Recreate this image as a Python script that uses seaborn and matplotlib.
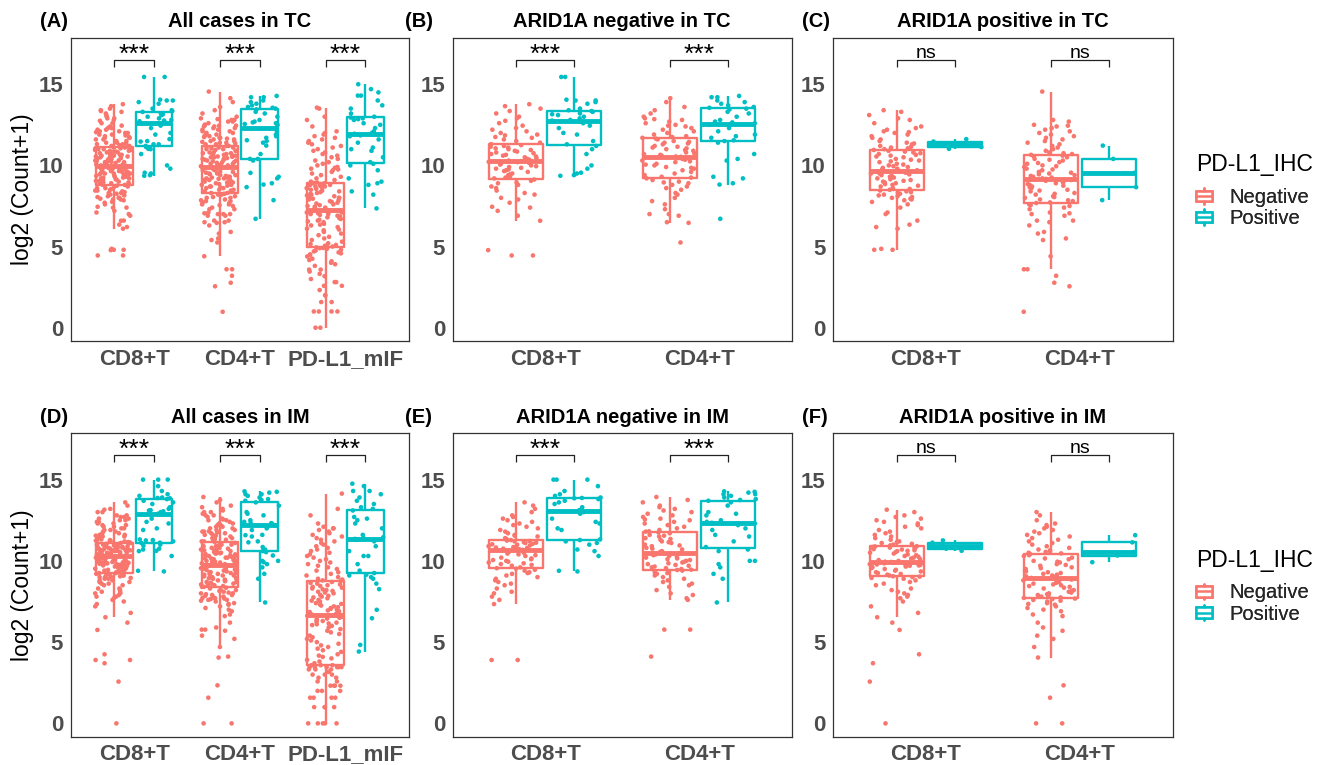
import numpy as np
import pandas as pd
import matplotlib
matplotlib.use("Agg")
import matplotlib.pyplot as plt
import seaborn as sns
from matplotlib.legend_handler import HandlerBase
from matplotlib.patches import Rectangle, Patch
from matplotlib.lines import Line2D

# ---------------- data (log2(Count+1)) ----------------
GROUPS = ["Negative", "Positive"]
COLORS = ["#F8766D", "#00BFC4"]
CELLS3 = ["CD8+T", "CD4+T", "PD-L1_mIF"]
CELLS2 = ["CD8+T", "CD4+T"]

# (B) ARID1A negative in TC
B_CD8_NEG = [4.45, 4.45, 4.78, 6.59, 6.9, 7.2, 7.4, 7.45, 7.7, 7.9, 8.0, 8.2, 8.3, 8.45, 8.6, 8.7, 8.8, 8.9, 8.95, 9.05, 9.13,
             9.2, 9.25, 9.3, 9.4, 9.45, 9.5, 9.6, 9.65, 9.7, 9.75, 9.8, 9.85, 9.9, 9.95, 10.0, 10.05, 10.1, 10.15, 10.2, 10.22, 10.26,
             10.3, 10.35, 10.4, 10.45, 10.5, 10.55, 10.6, 10.65, 10.7, 10.75, 10.8, 10.85, 10.9, 10.95, 11.0, 11.05, 11.1, 11.15, 11.2, 11.25, 11.31,
             11.4, 11.5, 11.6, 11.7, 11.75, 11.85, 11.9, 12.0, 12.1, 12.2, 12.3, 12.45, 12.6, 12.75, 12.9, 13.0, 13.2, 13.35, 13.5, 13.65, 13.77]
B_CD8_POS = [9.36, 9.4, 9.5, 9.55, 9.8, 10.0, 10.7, 11.0, 11.2, 11.3, 11.5, 11.9, 12.0, 12.3, 12.45, 12.6, 12.7, 12.72,
             12.76, 12.8, 12.9, 13.0, 13.1, 13.15, 13.2, 13.3, 13.35, 13.4, 13.5, 13.8, 13.9, 14.0, 14.0, 14.05, 15.45, 15.45]
B_CD4_NEG = [5.25, 6.46, 6.5, 6.9, 7.0, 7.0, 7.3, 7.6, 7.8, 8.0, 8.2, 8.3, 8.5, 8.6, 8.7, 8.8, 8.9, 8.95, 9.0, 9.1, 9.2,
             9.25, 9.3, 9.4, 9.5, 9.6, 9.7, 9.8, 9.85, 9.9, 10.0, 10.05, 10.1, 10.2, 10.25, 10.3, 10.35, 10.4, 10.45, 10.5, 10.5, 10.53,
             10.55, 10.6, 10.65, 10.7, 10.75, 10.8, 10.9, 10.95, 11.0, 11.05, 11.1, 11.15, 11.2, 11.3, 11.35, 11.4, 11.45, 11.5, 11.6, 11.65, 11.7,
             11.75, 11.8, 11.9, 12.0, 12.1, 12.2, 12.3, 12.4, 12.45, 12.5, 12.6, 12.7, 12.8, 12.85, 12.9, 13.0, 13.2, 13.4, 13.6, 13.9, 14.14]
B_CD4_POS = [6.71, 8.82, 8.9, 9.2, 9.3, 10.3, 10.4, 10.7, 11.4, 11.5, 11.55, 11.7, 11.8, 11.9, 12.1, 12.3, 12.5, 12.55,
             12.6, 12.65, 12.7, 12.8, 13.0, 13.2, 13.3, 13.45, 13.5, 13.55, 13.6, 13.7, 13.8, 13.9, 14.0, 14.2, 14.2, 14.28]

# (C) ARID1A positive in TC
C_CD8_NEG = [4.8, 4.8, 4.86, 6.1, 6.2, 6.35, 6.6, 7.0, 7.1, 7.4, 7.6, 7.75, 7.85, 7.9, 7.95, 8.0, 8.05, 8.1, 8.15, 8.2, 8.25, 8.3, 8.35, 8.4, 8.45,
             8.5, 8.55, 8.6, 8.7, 8.75, 8.8, 8.85, 8.9, 8.95, 9.0, 9.05, 9.1, 9.15, 9.2, 9.25, 9.3, 9.35, 9.4, 9.45, 9.5, 9.5, 9.55, 9.55, 9.6, 9.6,
             9.65, 9.7, 9.75, 9.8, 9.85, 9.9, 9.95, 10.0, 10.05, 10.1, 10.2, 10.25, 10.3, 10.35, 10.4, 10.5, 10.55, 10.6, 10.65, 10.7, 10.75, 10.8, 10.85, 10.9, 10.95,
             11.0, 11.05, 11.1, 11.15, 11.2, 11.3, 11.35, 11.4, 11.5, 11.6, 11.7, 11.8, 11.9, 12.0, 12.05, 12.1, 12.2, 12.3, 12.4, 12.6, 12.8, 12.9, 13.1, 13.3, 13.4]
C_CD8_POS = [11.02, 11.13, 11.3, 11.47, 11.62]
C_CD4_NEG = [0.98, 2.55, 2.77, 3.2, 3.6, 3.6, 4.4, 5.4, 5.5, 5.8, 5.9, 6.3, 6.5, 6.6, 6.6, 6.9, 7.0, 7.05, 7.1, 7.3, 7.4, 7.5, 7.55, 7.6, 7.68,
             7.72, 7.8, 7.85, 7.9, 8.0, 8.05, 8.1, 8.2, 8.25, 8.3, 8.4, 8.45, 8.5, 8.6, 8.65, 8.7, 8.75, 8.8, 8.85, 8.9, 8.95, 9.0, 9.05, 9.1, 9.13,
             9.17, 9.2, 9.25, 9.3, 9.35, 9.4, 9.45, 9.5, 9.55, 9.6, 9.7, 9.75, 9.8, 9.9, 9.95, 10.0, 10.1, 10.15, 10.2, 10.3, 10.35, 10.4, 10.5, 10.55, 10.6,
             10.65, 10.7, 10.75, 10.8, 10.9, 11.0, 11.1, 11.2, 11.3, 11.4, 11.5, 11.6, 11.7, 11.8, 11.9, 12.0, 12.1, 12.2, 12.3, 12.4, 12.45, 12.5, 12.7, 12.8, 14.55]
C_CD4_POS = [7.86, 8.66, 9.54, 10.40, 11.22]

# (A) All cases in TC, PD-L1_mIF
A_PDL1_NEG = [0, 0, 1.0, 1.0, 1.0, 1.0, 1.58, 1.58, 2.0, 2.0, 2.32, 2.58, 2.58, 2.81, 2.81, 3.0, 3.17, 3.32, 3.46, 3.58,
              3.58, 3.81, 3.91, 4.0, 4.09, 4.17, 4.25, 4.39, 4.46, 4.52, 4.58, 4.64, 4.7, 4.75, 4.8, 4.86, 4.9, 4.91, 4.95, 4.96,
              5.0, 5.05, 5.1, 5.15, 5.2, 5.3, 5.4, 5.5, 5.6, 5.7, 5.8, 5.9, 6.0, 6.05, 6.1, 6.2, 6.3, 6.35, 6.4, 6.5,
              6.55, 6.6, 6.65, 6.7, 6.75, 6.8, 6.85, 6.9, 6.95, 7.0, 7.0, 7.05, 7.1, 7.1, 7.15, 7.2, 7.2, 7.2, 7.22, 7.23,
              7.25, 7.3, 7.35, 7.4, 7.45, 7.5, 7.55, 7.6, 7.65, 7.7, 7.75, 7.8, 7.85, 7.9, 7.95, 8.0, 8.0, 8.05, 8.1, 8.15,
              8.2, 8.25, 8.3, 8.35, 8.4, 8.45, 8.5, 8.55, 8.6, 8.6, 8.65, 8.7, 8.7, 8.75, 8.8, 8.8, 8.85, 8.9, 8.9, 8.92,
              8.95, 9.0, 9.1, 9.2, 9.3, 9.4, 9.5, 9.6, 9.7, 9.75, 9.8, 9.85, 9.9, 10.0, 10.1, 10.2, 10.3, 10.4, 10.5, 10.6,
              10.7, 10.8, 10.9, 11.0, 11.1, 11.2, 11.3, 11.4, 11.5, 11.6, 11.7, 11.8, 11.9, 12.0, 12.1, 12.4, 12.8, 13.0, 13.5, 13.56]
A_PDL1_POS = [7.35, 8.2, 8.4, 8.8, 8.9, 9.0, 9.2, 9.7, 10.0, 10.1, 10.2, 10.5, 10.9, 11.0, 11.1, 11.4, 11.6, 11.8, 11.85, 11.9,
              11.95, 12.0, 12.1, 12.3, 12.5, 12.6, 12.8, 12.85, 12.9, 12.95, 13.0, 13.2, 13.5, 13.7, 14.0, 14.3, 14.3, 14.5, 14.7, 15.0]

# (E) ARID1A negative in IM
E_CD8_NEG = [3.9, 3.9, 7.34, 7.6, 7.8, 8.0, 8.1, 8.3, 8.5, 8.6, 8.7, 8.8, 8.9, 9.0, 9.1, 9.2, 9.25, 9.3, 9.4, 9.45, 9.52,
             9.55, 9.6, 9.7, 9.75, 9.8, 9.85, 9.9, 9.95, 10.0, 10.05, 10.1, 10.15, 10.2, 10.3, 10.35, 10.4, 10.45, 10.5, 10.55, 10.6, 10.63,
             10.65, 10.68, 10.7, 10.72, 10.75, 10.8, 10.82, 10.85, 10.88, 10.9, 10.95, 11.0, 11.02, 11.05, 11.1, 11.12, 11.15, 11.2, 11.22, 11.25, 11.28,
             11.32, 11.4, 11.5, 11.55, 11.6, 11.7, 11.8, 11.9, 12.0, 12.1, 12.2, 12.3, 12.4, 12.5, 12.6, 12.7, 12.8, 13.0, 13.2, 13.4, 13.6]
E_CD8_POS = [9.35, 9.39, 10.3, 10.6, 10.7, 11.0, 11.1, 11.2, 11.28, 11.32, 11.9, 12.0, 12.3, 12.4, 12.6, 12.9, 13.0, 13.05,
             13.1, 13.12, 13.2, 13.3, 13.5, 13.6, 13.7, 13.8, 13.85, 13.87, 13.9, 14.0, 14.1, 14.3, 14.6, 15.0, 15.0, 15.0]
E_CD4_NEG = [4.11, 5.77, 5.77, 7.6, 7.7, 7.9, 8.0, 8.2, 8.4, 8.5, 8.6, 8.7, 8.8, 8.9, 9.0, 9.1, 9.2, 9.25, 9.3, 9.4, 9.44,
             9.46, 9.5, 9.55, 9.6, 9.65, 9.7, 9.75, 9.8, 9.85, 9.9, 9.95, 10.0, 10.05, 10.1, 10.15, 10.2, 10.25, 10.3, 10.35, 10.4, 10.45,
             10.47, 10.55, 10.6, 10.7, 10.75, 10.8, 10.9, 10.95, 11.0, 11.1, 11.15, 11.2, 11.3, 11.35, 11.4, 11.5, 11.55, 11.6, 11.7, 11.75, 11.8,
             11.82, 11.9, 12.0, 12.1, 12.2, 12.3, 12.4, 12.5, 12.55, 12.6, 12.7, 12.8, 12.9, 13.0, 13.1, 13.2, 13.3, 13.4, 13.6, 13.75, 13.93]
E_CD4_POS = [7.44, 8.9, 9.2, 9.6, 9.8, 10.0, 10.0, 10.6, 10.7, 10.85, 11.2, 11.5, 11.6, 11.9, 12.0, 12.2, 12.3, 12.32,
             12.34, 12.4, 12.5, 12.8, 12.9, 13.0, 13.4, 13.6, 13.7, 13.75, 13.8, 13.9, 14.0, 14.1, 14.1, 14.2, 14.25, 14.28]

# (F) ARID1A positive in IM
F_CD8_NEG = [0, 2.57, 3.7, 4.25, 5.75, 6.2, 6.53, 6.8, 7.2, 7.5, 7.7, 7.8, 7.9, 8.0, 8.1, 8.2, 8.3, 8.5, 8.6, 8.7, 8.8, 8.9, 8.95, 9.0, 9.03,
             9.05, 9.1, 9.15, 9.2, 9.25, 9.3, 9.35, 9.4, 9.45, 9.5, 9.55, 9.6, 9.62, 9.65, 9.7, 9.72, 9.75, 9.78, 9.8, 9.82, 9.85, 9.88, 9.9, 9.92, 9.93,
             9.95, 10.0, 10.05, 10.1, 10.15, 10.2, 10.25, 10.3, 10.35, 10.4, 10.45, 10.5, 10.55, 10.6, 10.62, 10.65, 10.7, 10.72, 10.75, 10.78, 10.8, 10.82, 10.85, 10.87, 10.88,
             10.9, 10.95, 11.0, 11.05, 11.1, 11.15, 11.2, 11.3, 11.4, 11.5, 11.6, 11.7, 11.8, 11.9, 12.0, 12.1, 12.2, 12.3, 12.4, 12.5, 12.6, 12.7, 12.8, 13.0, 13.15]
F_CD8_POS = [10.62, 10.75, 10.93, 11.12, 11.26]
F_CD4_NEG = [0, 0, 1.58, 2.34, 4.05, 4.7, 5.2, 5.4, 5.7, 5.9, 6.2, 6.6, 6.7, 6.9, 7.0, 7.1, 7.2, 7.3, 7.35, 7.4, 7.5, 7.55, 7.6, 7.65, 7.68,
             7.72, 7.75, 7.8, 7.85, 7.9, 7.95, 8.0, 8.05, 8.1, 8.15, 8.2, 8.3, 8.35, 8.4, 8.45, 8.5, 8.55, 8.6, 8.65, 8.7, 8.75, 8.8, 8.85, 8.9, 8.93,
             8.95, 9.0, 9.05, 9.1, 9.15, 9.2, 9.25, 9.3, 9.35, 9.4, 9.5, 9.55, 9.6, 9.7, 9.75, 9.8, 9.9, 9.95, 10.0, 10.1, 10.15, 10.2, 10.3, 10.35, 10.42,
             10.46, 10.5, 10.55, 10.6, 10.65, 10.7, 10.8, 10.9, 11.0, 11.1, 11.2, 11.3, 11.4, 11.5, 11.6, 11.7, 11.8, 11.9, 12.0, 12.1, 12.2, 12.3, 12.5, 12.8, 13.0]
F_CD4_POS = [9.92, 10.33, 10.54, 11.14, 11.58]

# (D) All cases in IM, PD-L1_mIF
D_PDL1_NEG = [0, 0, 0, 0, 0, 1.0, 1.0, 1.0, 1.0, 1.58, 1.58, 1.58, 1.58, 2.0, 2.0, 2.0, 2.32, 2.32, 2.32, 2.32,
              2.58, 2.58, 2.81, 2.81, 3.0, 3.0, 3.0, 3.17, 3.17, 3.32, 3.32, 3.32, 3.46, 3.46, 3.46, 3.46, 3.46, 3.46, 3.58, 3.58,
              3.58, 3.7, 3.81, 3.91, 4.0, 4.09, 4.17, 4.25, 4.4, 4.5, 4.6, 4.7, 4.8, 4.9, 5.0, 5.1, 5.2, 5.3, 5.4, 5.5,
              5.6, 5.7, 5.8, 5.9, 6.0, 6.05, 6.1, 6.15, 6.2, 6.25, 6.3, 6.35, 6.4, 6.45, 6.5, 6.55, 6.6, 6.62, 6.64, 6.65,
              6.67, 6.7, 6.75, 6.8, 6.85, 6.9, 6.95, 7.0, 7.05, 7.1, 7.15, 7.2, 7.25, 7.3, 7.35, 7.4, 7.5, 7.55, 7.6, 7.7,
              7.75, 7.8, 7.85, 7.9, 8.0, 8.05, 8.1, 8.15, 8.2, 8.25, 8.3, 8.35, 8.4, 8.45, 8.5, 8.55, 8.6, 8.65, 8.7, 8.75,
              8.8, 8.85, 8.9, 9.0, 9.1, 9.2, 9.3, 9.4, 9.5, 9.6, 9.7, 9.8, 9.9, 10.0, 10.1, 10.2, 10.3, 10.4, 10.5, 10.6,
              10.7, 10.8, 10.9, 11.0, 11.1, 11.2, 11.3, 11.4, 11.5, 11.6, 11.7, 11.8, 11.9, 12.0, 12.0, 12.1, 12.3, 12.8, 13.2, 14.14]
D_PDL1_POS = [4.42, 4.83, 6.47, 6.99, 8.26, 8.6, 8.9, 9.0, 9.1, 9.15, 9.25, 9.4, 9.8, 10.3, 10.3, 10.6, 10.9, 11.2, 11.3, 11.33,
              11.35, 11.4, 11.45, 11.6, 12.0, 12.3, 12.5, 12.6, 12.7, 13.1, 13.2, 13.3, 13.5, 13.7, 13.9, 14.1, 14.3, 14.3, 14.6, 14.75]

# panel definitions
PANEL_LABELS = ["(A)", "(B)", "(C)", "(D)", "(E)", "(F)"]
PANEL_TITLES = ["All cases in TC", "ARID1A negative in TC", "ARID1A positive in TC",
                "All cases in IM", "ARID1A negative in IM", "ARID1A positive in IM"]
SIG_A = ["***", "***", "***"]
SIG_B = ["***", "***"]
SIG_C = ["ns", "ns"]
SIG_D = ["***", "***", "***"]
SIG_E = ["***", "***"]
SIG_F = ["ns", "ns"]
Y_TICKS = [0, 5, 10, 15]
Y_LABEL = "log2 (Count+1)"
LEGEND_TITLE = "PD-L1_IHC"

PANEL_DATA = [
    (CELLS3, {"CD8+T": (B_CD8_NEG + C_CD8_NEG, B_CD8_POS + C_CD8_POS),
              "CD4+T": (B_CD4_NEG + C_CD4_NEG, B_CD4_POS + C_CD4_POS),
              "PD-L1_mIF": (A_PDL1_NEG, A_PDL1_POS)}, SIG_A),
    (CELLS2, {"CD8+T": (B_CD8_NEG, B_CD8_POS), "CD4+T": (B_CD4_NEG, B_CD4_POS)}, SIG_B),
    (CELLS2, {"CD8+T": (C_CD8_NEG, C_CD8_POS), "CD4+T": (C_CD4_NEG, C_CD4_POS)}, SIG_C),
    (CELLS3, {"CD8+T": (E_CD8_NEG + F_CD8_NEG, E_CD8_POS + F_CD8_POS),
              "CD4+T": (E_CD4_NEG + F_CD4_NEG, E_CD4_POS + F_CD4_POS),
              "PD-L1_mIF": (D_PDL1_NEG, D_PDL1_POS)}, SIG_D),
    (CELLS2, {"CD8+T": (E_CD8_NEG, E_CD8_POS), "CD4+T": (E_CD4_NEG, E_CD4_POS)}, SIG_E),
    (CELLS2, {"CD8+T": (F_CD8_NEG, F_CD8_POS), "CD4+T": (F_CD4_NEG, F_CD4_POS)}, SIG_F),
]


def make_df(cells, data):
    rows = []
    for c in cells:
        for g, vals in zip(GROUPS, data[c]):
            for v in vals:
                rows.append((c, g, v))
    return pd.DataFrame(rows, columns=["cell", LEGEND_TITLE, "value"])


# ---------------- style ----------------
sns.set_style("white")
plt.rcParams["font.family"] = ["Liberation Sans", "DejaVu Sans"]

W, H = 1327, 765
fig = plt.figure(figsize=(W / 100, H / 100), dpi=100)

# axes boxes in pixels: (left, top, right, bottom)
BOXES = [(70.7, 38, 409, 341), (452.7, 38, 791.7, 341), (833.5, 38, 1172.5, 341),
         (70.7, 433.3, 409, 736.7), (452.7, 433.3, 791.7, 736.7), (833.5, 433.3, 1172.5, 736.7)]
LABEL_X = [40, 405, 802, 40, 405, 802]
TITLE_BASE = [27, 27, 27, 423, 423, 423]

INK = "#333333"
TICK_INK = "#4D4D4D"

np.random.seed(7)
for k, (cells, data, sig) in enumerate(PANEL_DATA):
    l, t, r, b = BOXES[k]
    ax = fig.add_axes([l / W, 1 - b / H, (r - l) / W, (b - t) / H])
    df = make_df(cells, data)
    sns.boxplot(data=df, x="cell", y="value", hue=LEGEND_TITLE, order=cells, hue_order=GROUPS,
                palette=COLORS, fill=False, width=0.75, gap=0.07, dodge=True, whis=1.5,
                showfliers=False, showcaps=False, linewidth=1.7,
                medianprops=dict(linewidth=3.5), legend=False, ax=ax)
    sns.stripplot(data=df, x="cell", y="value", hue=LEGEND_TITLE, order=cells, hue_order=GROUPS,
                  palette=COLORS, dodge=True, jitter=0.34, size=3.3, linewidth=0,
                  legend=False, ax=ax, zorder=3)
    ax.set_xlim(-0.6, len(cells) - 0.4)
    ax.set_ylim(-0.82, 17.85)
    ax.set_yticks(Y_TICKS, labels=[str(v) for v in Y_TICKS], fontweight="bold")
    ax.set_xticks(range(len(cells)), labels=cells, fontweight="bold")
    ax.set_xlabel("")
    ax.set_ylabel("")
    ax.tick_params(axis="both", length=3.5, width=0.8, color=INK, labelcolor=TICK_INK,
                   labelsize=16, pad=2, direction="out")
    for sp in ax.spines.values():
        sp.set_visible(True)
        sp.set_color(INK)
        sp.set_linewidth(0.9)
    ax.grid(False)

    # significance brackets
    for i, s in enumerate(sig):
        x0, x1 = i - 0.1875, i + 0.1875
        ax.plot([x0, x0, x1, x1], [16.07, 16.5, 16.5, 16.07], color="#222222", lw=0.9,
                solid_capstyle="butt", zorder=4)
        if s == "ns":
            ax.text(i, 16.62, s, ha="center", va="baseline", fontsize=14, color="black")
        else:
            ax.text(i, 16.4, s, ha="center", va="baseline", fontsize=19, color="black")

    # title and panel label
    fig.text(((l + r) / 2) / W, 1 - TITLE_BASE[k] / H, PANEL_TITLES[k], ha="center",
             va="baseline", fontsize=14.5, fontweight="bold", color="black")
    fig.text(LABEL_X[k] / W, 1 - TITLE_BASE[k] / H, PANEL_LABELS[k], ha="left",
             va="baseline", fontsize=14.5, fontweight="bold", color="black")

# y labels
for k in (0, 3):
    l, t, r, b = BOXES[k]
    fig.text(23 / W, 1 - ((t + b) / 2) / H, Y_LABEL, rotation=90, ha="center", va="center",
             fontsize=16.5, color="black")


# legend with boxplot-like keys
class BoxKeyHandler(HandlerBase):
    def create_artists(self, legend, orig_handle, xdescent, ydescent, width, height,
                       fontsize, trans):
        color = orig_handle.get_edgecolor()
        x0, y0 = -xdescent, -ydescent
        bw = width
        bx = x0
        bh = height * 0.72
        by = y0 + (height - bh) / 2
        cx = x0 + width / 2
        rect = Rectangle((bx, by), bw, bh, facecolor="white", edgecolor=color, lw=1.8,
                         transform=trans)
        med = Line2D([bx, bx + bw], [y0 + height / 2] * 2, color=color, lw=1.8, transform=trans)
        w1 = Line2D([cx, cx], [by + bh, y0 + height], color=color, lw=1.8, transform=trans)
        w2 = Line2D([cx, cx], [y0, by], color=color, lw=1.8, transform=trans)
        return [rect, med, w1, w2]


handles = [Patch(facecolor="white", edgecolor=c) for c in COLORS]
for dy in (0, 395.5):
    fig.text(1196.5 / W, 1 - (171.5 + dy) / H, LEGEND_TITLE, ha="left", va="baseline",
             fontsize=16.5, color="black")
    leg = fig.legend(handles, GROUPS, loc="upper left",
                     bbox_to_anchor=(1195.5 / W, 1 - (188 + dy) / H), frameon=False, fontsize=14.5,
                     borderpad=0, borderaxespad=0, handlelength=0.8,
                     handleheight=0.78, handletextpad=0.9, labelspacing=0.1,
                     handler_map={Patch: BoxKeyHandler()})
    fig.add_artist(leg)

fig.savefig("out.png", dpi=100)
